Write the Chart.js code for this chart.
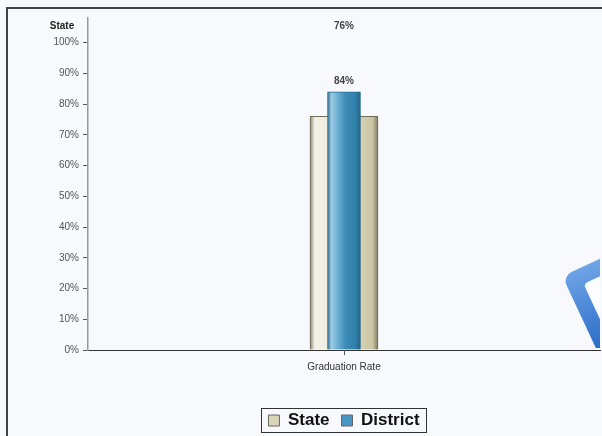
<!DOCTYPE html>
<html>
<head>
<meta charset="utf-8">
<script src="https://cdn.jsdelivr.net/npm/chart.js@4/dist/chart.umd.min.js"></script>
<style>
  html, body { margin: 0; padding: 0; background: #f8f9fd; overflow: hidden; }
  #frame { position: absolute; left: 6px; top: 7px; width: 700px; height: 500px;
           border-left: 2px solid #444; border-top: 2px solid #444; }
  canvas { position: absolute; left: 0; top: 0; }
</style>
</head>
<body>
<div id="frame"></div>
<canvas id="myChart" width="602" height="436"></canvas>
<script>
// data
const categories = ["Graduation Rate"];
const stateValues = [76];
const districtValues = [84];
const yTicks = [0, 10, 20, 30, 40, 50, 60, 70, 80, 90, 100];

// bar gradient from the x scale
function barGradient(context, width, stops, fallback) {
  const chart = context.chart;
  const xs = chart.scales.x;
  if (!xs || !chart.chartArea) return fallback;
  const cx = xs.getPixelForValue(context.dataIndex || 0);
  const g = chart.ctx.createLinearGradient(cx - width / 2, 0, cx + width / 2, 0);
  stops.forEach(s => g.addColorStop(s[0], s[1]));
  return g;
}

const stateStops = [[0, "#8c8872"], [0.07, "#f4f2e8"], [0.3, "#eeebdd"], [0.65, "#dcd7bb"], [0.92, "#cbc5a3"], [1, "#7f7a63"]];
const districtStops = [[0, "#2c6f93"], [0.12, "#9ccbe3"], [0.3, "#6eb0d3"], [0.55, "#3b8cb7"], [0.85, "#2f7fa9"], [1, "#225f80"]];

// watermark, value labels, axis title, legend frame
const extras = {
  id: "extras",
  afterLayout(chart) {
    // centre the legend under the plot area
    const lg = chart.legend;
    if (!lg) return;
    const shift = ((chart.chartArea.left + chart.chartArea.right) - (lg.left + lg.right)) / 2;
    lg.left += shift;
    lg.right += shift;
    lg.legendHitBoxes.forEach(h => { h.left += shift; });
  },
  beforeDatasetsDraw(chart) {
    const ctx = chart.ctx;
    const a = chart.chartArea;
    ctx.save();
    ctx.beginPath();
    ctx.rect(a.left, a.top, a.right - a.left, a.bottom - a.top - 2);
    ctx.clip();
    ctx.translate(666, 314);
    ctx.rotate(-25 * Math.PI / 180);
    const g = ctx.createLinearGradient(-60, -80, -80, 60);
    g.addColorStop(0, "#6fa5e6");
    g.addColorStop(0.6, "#2b6cc8");
    g.addColorStop(1, "#1a56b5");
    ctx.fillStyle = g;
    ctx.beginPath();
    ctx.roundRect(-78, -78, 156, 156, 10);
    ctx.fill();
    ctx.fillStyle = "#fcfdff";
    ctx.beginPath();
    ctx.roundRect(-62, -62, 124, 124, 4);
    ctx.fill();
    ctx.restore();
  },
  afterDatasetsDraw(chart) {
    const ctx = chart.ctx;
    ctx.save();
    ctx.font = "bold 10px Arial, 'Liberation Sans', sans-serif";
    ctx.fillStyle = "#444";
    ctx.textAlign = "center";
    ctx.textBaseline = "alphabetic";
    const dBar = chart.getDatasetMeta(1).data[0];
    ctx.fillText(districtValues[0] + "%", dBar.x, dBar.y - 8);
    const sBar = chart.getDatasetMeta(0).data[0];
    ctx.fillText(stateValues[0] + "%", sBar.x, chart.chartArea.top + 11);
    ctx.fillStyle = "#222";
    ctx.fillText("State", chart.scales.y.right - 26, chart.chartArea.top + 11);
    ctx.restore();
  },
  afterDraw(chart) {
    const boxes = chart.legend && chart.legend.legendHitBoxes;
    if (!boxes || !boxes.length) return;
    const first = boxes[0], last = boxes[boxes.length - 1];
    const ctx = chart.ctx;
    ctx.save();
    ctx.strokeStyle = "#333";
    ctx.lineWidth = 1;
    const mid = Math.round(first.top + first.height / 2);
    const l = Math.round(first.left) - 6.5, t = mid - 12.5;
    const r = Math.round(last.left + last.width) + 6.5, b = mid + 11.5;
    ctx.strokeRect(l, t, r - l, b - t);
    ctx.restore();
  }
};

new Chart(document.getElementById("myChart"), {
  type: "bar",
  data: {
    labels: categories,
    datasets: [
      {
        label: "State",
        data: stateValues,
        grouped: false,
        order: 1,
        barThickness: 68,
        backgroundColor: c => barGradient(c, 68, stateStops, "#dcd7bb"),
        borderColor: "#6f6b58",
        borderWidth: 1,
        legendColor: "#d9d4b8"
      },
      {
        label: "District",
        data: districtValues,
        grouped: false,
        order: 0,
        barThickness: 33,
        backgroundColor: c => barGradient(c, 33, districtStops, "#3b8cb7"),
        borderColor: "#2a6b8e",
        borderWidth: 1,
        legendColor: "#4a96c2"
      }
    ]
  },
  plugins: [extras],
  options: {
    responsive: false,
    animation: false,
    layout: { padding: { top: 18, right: 2, bottom: -3, left: 0 } },
    plugins: {
      tooltip: { enabled: false },
      legend: {
        position: "bottom",
        labels: {
          boxWidth: 11,
          boxHeight: 11,
          padding: 12,
          color: "#111",
          font: { family: "Arial, 'Liberation Sans', sans-serif", size: 17, weight: "bold" },
          sort: (a, b) => a.datasetIndex - b.datasetIndex,
          generateLabels(chart) {
            return chart.data.datasets.map((ds, i) => ({
              text: ds.label,
              fillStyle: ds.legendColor,
              strokeStyle: "#666",
              lineWidth: 1,
              fontColor: "#111",
              datasetIndex: i,
              hidden: false
            }));
          }
        }
      }
    },
    scales: {
      x: {
        offset: true,
        afterFit(s) { s.height = 50; },
        grid: { drawOnChartArea: false, offset: false, tickLength: 5, color: "#555" },
        border: { color: "#333", width: 1 },
        ticks: {
          color: "#333",
          padding: 6,
          font: { family: "Arial, 'Liberation Sans', sans-serif", size: 10 }
        }
      },
      y: {
        min: 0,
        max: 108,
        afterFit(s) { s.width = 88; },
        afterBuildTicks(s) { s.ticks = yTicks.map(v => ({ value: v })); },
        grid: { drawOnChartArea: false, tickLength: 5, color: "#555" },
        border: { color: "#999", width: 1.5 },
        ticks: {
          color: "#555",
          padding: 4,
          font: { family: "Arial, 'Liberation Sans', sans-serif", size: 10 },
          callback: v => v + "%"
        }
      }
    }
  }
});
</script>
</body>
</html>
